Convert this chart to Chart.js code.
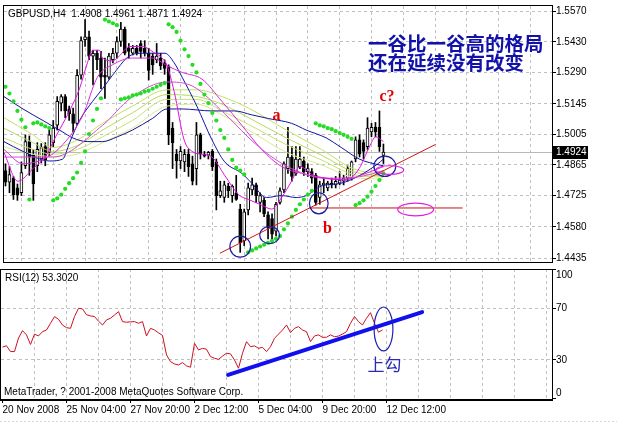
<!DOCTYPE html>
<html><head><meta charset="utf-8">
<script src="https://cdn.jsdelivr.net/npm/chart.js@4.4.1/dist/chart.umd.min.js"></script>
<style>
html,body{margin:0;padding:0;background:#fff;width:617px;height:425px;overflow:hidden}
canvas{display:block}
#wm{position:absolute;left:0;top:0}
#wr{position:absolute;left:0;top:268px}
</style></head><body>
<div id="wm"><canvas id="main" width="617" height="268"></canvas></div>
<div id="wr"><canvas id="rsi" width="617" height="157"></canvas></div>
<script>
// ---------- DATA ----------
const symbol = 'GBPUSD,H4';
const tickLabels = ['20 Nov 2008','25 Nov 04:00','27 Nov 20:00','2 Dec 12:00','5 Dec 04:00','9 Dec 20:00','12 Dec 12:00'];
const tickIdx = [0,16,32,48,64,80,96];
const priceTicks = [1.5570,1.5430,1.5290,1.5145,1.5005,1.4865,1.4725,1.4580,1.4435];
const rsiTicks = [100,70,30,0];

const opens = [1.4839,1.4786,1.4804,1.4759,1.4737,1.4861,1.4972,1.4910,1.4861,1.4892,
1.4949,1.4923,1.4967,1.5047,1.5149,1.5179,1.5122,1.5100,1.5056,1.5277,
1.5440,1.5454,1.5365,1.5378,1.5356,1.5277,1.5268,1.5348,1.5378,1.5432,
1.5489,1.5401,1.5378,1.5401,1.5423,1.5401,1.5378,1.5365,1.5348,1.5356,
1.5334,1.5317,1.5034,1.4914,1.4883,1.4879,1.4914,1.4870,1.4848,1.5003,
1.4914,1.4910,1.4927,1.4879,1.4724,1.4715,1.4768,1.4724,1.4737,1.4662,
1.4516,1.4658,1.4750,1.4773,1.4693,1.4702,1.4635,1.4618,1.4560,1.4693,
1.4750,1.4848,1.4901,1.4826,1.4857,1.4883,1.4834,1.4834,1.4817,1.4715,
1.4773,1.4759,1.4781,1.4773,1.4781,1.4790,1.4804,1.4804,1.4892,1.4980,
1.4967,1.4949,1.5016,1.5038,1.5038,1.4908];
const highs = [1.4870,1.4857,1.4812,1.4777,1.4879,1.5003,1.4998,1.4936,1.4967,1.4963,
1.4967,1.5025,1.5069,1.5179,1.5188,1.5188,1.5135,1.5126,1.5303,1.5454,
1.5533,1.5480,1.5392,1.5392,1.5387,1.5356,1.5378,1.5401,1.5454,1.5520,
1.5498,1.5423,1.5414,1.5414,1.5436,1.5436,1.5401,1.5378,1.5423,1.5378,
1.5348,1.5325,1.5060,1.4936,1.4949,1.4936,1.4936,1.4905,1.5060,1.5011,
1.4927,1.4927,1.4936,1.4892,1.4790,1.4790,1.4781,1.4773,1.4817,1.4684,
1.4662,1.4781,1.4804,1.4781,1.4737,1.4715,1.4649,1.4640,1.4693,1.4759,
1.4879,1.5038,1.4949,1.4949,1.4949,1.4901,1.4870,1.4848,1.4826,1.4790,
1.4804,1.4790,1.4804,1.4812,1.4834,1.4817,1.4861,1.4883,1.4994,1.5003,
1.4980,1.5082,1.5056,1.5060,1.5113,1.4961];
const lows = [1.4768,1.4737,1.4706,1.4702,1.4724,1.4848,1.4817,1.4702,1.4834,1.4874,
1.4861,1.4905,1.4949,1.5025,1.5113,1.5082,1.5069,1.5016,1.5047,1.5259,
1.5409,1.5348,1.5233,1.5303,1.5215,1.5171,1.5259,1.5334,1.5356,1.5409,
1.5370,1.5356,1.5370,1.5370,1.5356,1.5365,1.5255,1.5281,1.5334,1.5303,
1.5281,1.4958,1.4848,1.4804,1.4848,1.4834,1.4812,1.4773,1.4773,1.4892,
1.4901,1.4892,1.4839,1.4658,1.4715,1.4693,1.4715,1.4693,1.4702,1.4463,
1.4494,1.4635,1.4728,1.4693,1.4649,1.4627,1.4525,1.4507,1.4538,1.4684,
1.4737,1.4826,1.4790,1.4817,1.4848,1.4817,1.4812,1.4781,1.4680,1.4684,
1.4737,1.4746,1.4759,1.4759,1.4773,1.4773,1.4790,1.4795,1.4879,1.4901,
1.4892,1.4936,1.4994,1.4994,1.4927,1.4871];
const closes = [1.4786,1.4821,1.4728,1.4728,1.4830,1.4972,1.4901,1.4777,1.4936,1.4945,
1.4888,1.5003,1.5034,1.5157,1.5179,1.5113,1.5100,1.5056,1.5277,1.5436,
1.5454,1.5365,1.5378,1.5348,1.5268,1.5268,1.5365,1.5378,1.5432,1.5489,
1.5378,1.5387,1.5401,1.5378,1.5387,1.5378,1.5299,1.5325,1.5365,1.5321,
1.5308,1.5003,1.4967,1.4883,1.4927,1.4914,1.4857,1.4790,1.5003,1.4914,
1.4905,1.4923,1.4857,1.4724,1.4746,1.4773,1.4746,1.4768,1.4706,1.4507,
1.4649,1.4759,1.4773,1.4724,1.4724,1.4640,1.4574,1.4547,1.4684,1.4746,
1.4870,1.4901,1.4812,1.4892,1.4892,1.4834,1.4848,1.4804,1.4693,1.4773,
1.4781,1.4781,1.4773,1.4790,1.4795,1.4804,1.4848,1.4879,1.4980,1.4914,
1.4927,1.5034,1.5038,1.5016,1.4949,1.4924];

const sarValues = [1.5224,1.5193,1.5157,1.5113,1.5073,1.5038,1.4706,1.5056,1.5060,1.5051,
1.5042,1.5034,1.4702,1.4711,1.4728,1.4755,1.4781,1.4804,1.4830,1.4874,
1.4927,1.5007,1.5069,1.5122,1.5171,1.5533,1.5524,1.5516,1.5507,1.5166,
1.5171,1.5175,1.5184,1.5188,1.5193,1.5202,1.5206,1.5215,1.5224,1.5233,
1.5241,1.5511,1.5498,1.5476,1.5436,1.5396,1.5365,1.5325,1.5290,1.5237,
1.5188,1.5149,1.5104,1.5069,1.5025,1.4989,1.4936,1.4888,1.4852,1.4839,
1.4821,1.4463,1.4472,1.4481,1.4490,1.4498,1.4507,1.4516,1.4525,1.4538,
1.4569,1.4596,1.4627,1.4658,1.4684,1.4706,1.4728,1.4746,1.5056,1.5047,
1.5042,1.5034,1.5029,1.5020,1.5011,1.5003,1.4994,1.4985,1.4680,1.4689,
1.4702,1.4719,1.4742,1.4768,1.4795,1.4826];

const maSlowBlue = [[-0.4,1.5179],[4.4,1.5122],[9.4,1.5069],[14.4,1.5016],[16.9,1.4989],[20.6,1.4972],[24.4,1.4972],[28.1,1.4994],[31.9,1.5025],[36.9,1.5078],[40.6,1.5122],[44.4,1.5122],[51.9,1.5113],[57.6,1.5113],[61.9,1.5095],[66.1,1.5078],[71.9,1.5056],[75.6,1.5025],[80.6,1.4989],[84.4,1.4945],[88.9,1.4892],[93.9,1.4865],[95,1.4861]];
const maFastBlue = [[-0.4,1.4972],[4.4,1.4927],[11.1,1.4883],[14.4,1.4892],[16.1,1.4967],[18.6,1.5069],[21.9,1.5157],[24.4,1.5215],[26.9,1.5277],[31.1,1.5365],[34.4,1.5378],[40.1,1.5378],[42.4,1.5334],[44.4,1.5268],[48.1,1.5135],[51.9,1.4980],[55.1,1.4879],[59.4,1.4826],[61.9,1.4781],[65.6,1.4715],[69.4,1.4724],[73.1,1.4715],[75.6,1.4724],[79.4,1.4768],[84.4,1.4781],[88.6,1.4812],[93.6,1.4870],[95,1.4892]];
const maMagentaFast = [[-0.4,1.4923],[3.1,1.4790],[6.9,1.4848],[10.1,1.4905],[12.6,1.4994],[16.1,1.5113],[18.6,1.5215],[20.6,1.5334],[21.9,1.5392],[23.6,1.5392],[24.4,1.5356],[26.9,1.5343],[28.6,1.5365],[31.1,1.5409],[34.4,1.5409],[37.6,1.5378],[39.4,1.5356],[40.6,1.5321],[42.4,1.5202],[44.9,1.4980],[46.9,1.4927],[49.4,1.4914],[51.9,1.4901],[55.1,1.4817],[58.6,1.4728],[61.1,1.4706],[64.4,1.4680],[66.9,1.4662],[69.4,1.4715],[71.9,1.4790],[74.0,1.4857],[77.4,1.4817],[80.6,1.4804],[85.6,1.4795],[88.9,1.4848],[91.4,1.4945],[93.1,1.4994],[95,1.4972]];
const maMagentaMid = [[-0.4,1.4936],[4.4,1.4870],[10.6,1.4901],[14.4,1.4958],[19.4,1.5091],[23.1,1.5268],[26.9,1.5325],[31.9,1.5356],[36.9,1.5356],[40.6,1.5321],[44.4,1.5290],[49.4,1.5259],[54.4,1.5157],[59.4,1.5047],[64.4,1.4936],[69.4,1.4857],[74.4,1.4826],[79.4,1.4804],[85.6,1.4799],[90.6,1.4826],[95,1.4857]];
const maMagentaSlow = [[-0.4,1.4901],[11.9,1.4901],[24.4,1.5047],[31.4,1.5171],[40.6,1.5246],[46.9,1.5228],[55.1,1.5100],[63.6,1.4949],[71.9,1.4848],[81.9,1.4804],[89.4,1.4812],[95,1.4839]];
const maYellowIdx = [-0.4,6.9,11.9,18.1,24.4,31.9,40.6,48.1,54.4,61.1,70.6,79.4,87.4,95];
const maYellow1 = [1.5082,1.5003,1.4945,1.4980,1.5056,1.5135,1.5210,1.5210,1.5179,1.5126,1.5025,1.4936,1.4848,1.4821];
const maYellow2 = [1.5034,1.4967,1.4927,1.4954,1.5025,1.5104,1.5188,1.5179,1.5144,1.5082,1.4989,1.4910,1.4834,1.4812];
const maYellow3 = [1.4989,1.4936,1.4914,1.4936,1.4994,1.5069,1.5166,1.5166,1.5113,1.5051,1.4958,1.4888,1.4821,1.4808];
const maYellow4 = [1.4949,1.4914,1.4903,1.4915,1.4967,1.5034,1.5135,1.5144,1.5095,1.5025,1.4923,1.4865,1.4808,1.4799];

const rsiValues = [40,41,36.5,36.5,47,52.7,49.4,42,50,48.6,
51.9,53.2,58.4,63.6,61.5,57,55,54.5,63.6,70,
69.5,65,64.1,63.6,60,57.1,61,62.3,64.8,67.4,
59.7,59.2,59.5,59.7,58.4,59.7,48.6,54.5,53.2,51,
49,33.9,28.7,26.9,26.1,28,25.4,24.4,42.9,37.8,
39,38.3,32.6,31.3,30.5,33,35.2,34.7,30,23.6,
35.2,44.2,40.3,40.9,39,39.8,36.5,40.3,46.8,50,
53.2,57.1,51.2,54.5,55.8,53.2,51.9,44.2,48.6,49.4,
47.5,47.6,49.4,48,48.5,50.1,51.9,58.4,63.6,59.7,
57.1,62.3,66.6,58.4,51.5,53.302];

// annotations (data coordinates: bar index, price / rsi)
const lowCircles = [[56.4,1.4538,61.6,1.4441],[63.9,1.4582,68.9,1.4503],[76.4,1.4737,81.1,1.4640],[92.6,1.4905,98.1,1.4812]];
const pinkEllipses = [[98.6,1.4689,107.6,1.4631],[93.1,1.4861,100.1,1.4821]];
const trendLine = [[53.9,1.4459],[108.1,1.4959]];
const supportLine = [[76.4,1.4667],[114.9,1.4667]];
const waveLabels = [['a',68.1,1.5091],['b',80.9,1.4569],['c?',95.9,1.5179]];
const noteLines = ['一谷比一谷高的格局','还在延续没有改变'];
const noteAnchor = [91.1,1.5423,1.5334];
const rsiTrend = [[56.4,18.4],[104.9,67.1]];
const rsiEllipse = [92.9,71.0,97.6,37.0];
const rsiNote = ['上勾',95.5,26.5];

// ---------- CHART ----------
const FONT = "'Liberation Sans', Arial, sans-serif";
Chart.defaults.font.family = FONT;
Chart.defaults.font.size = 10;
Chart.defaults.color = '#000';
const X_MIN = -0.375, X_MAX = 137.375;
const gridTicks = [];
for (let v = 0; v <= 136; v += 8) gridTicks.push(v);
const GRID = '#c0c0c0';
const last = closes.length - 1;

function ellipseBox(ctx, xs, ys, b, color, lw) {
  const x1 = xs.getPixelForValue(b[0]), x2 = xs.getPixelForValue(b[2]);
  const y1 = ys.getPixelForValue(b[1]), y2 = ys.getPixelForValue(b[3]);
  ctx.beginPath();
  ctx.ellipse((x1+x2)/2, (y1+y2)/2, Math.abs(x2-x1)/2, Math.abs(y2-y1)/2, 0, 0, Math.PI*2);
  ctx.strokeStyle = color; ctx.lineWidth = lw; ctx.stroke();
}
function seg(ctx, xs, ys, p, color, lw) {
  ctx.beginPath();
  ctx.moveTo(xs.getPixelForValue(p[0][0]), ys.getPixelForValue(p[0][1]));
  ctx.lineTo(xs.getPixelForValue(p[1][0]), ys.getPixelForValue(p[1][1]));
  ctx.strokeStyle = color; ctx.lineWidth = lw; ctx.stroke();
}

const mainDecor = {
  id: 'mainDecor',
  beforeDatasetsDraw(c) {
    const {ctx, chartArea: a, scales: {y}} = c;
    const yy = Math.round(y.getPixelForValue(closes[last])) + 0.5;
    ctx.save();
    ctx.strokeStyle = '#b8b8b8'; ctx.lineWidth = 1;
    ctx.beginPath(); ctx.moveTo(a.left, yy); ctx.lineTo(a.right, yy); ctx.stroke();
    ctx.restore();
  },
  afterDatasetsDraw(c) {
    const {ctx, chartArea: a, scales: {x, y}} = c;
    ctx.save();
    ctx.beginPath(); ctx.rect(a.left, a.top, a.right - a.left, a.bottom - a.top); ctx.clip();
    seg(ctx, x, y, trendLine, '#d01818', 1);
    seg(ctx, x, y, supportLine, '#cc1010', 1);
    lowCircles.forEach(b => ellipseBox(ctx, x, y, b, '#1a1aa6', 1.2));
    pinkEllipses.forEach(b => ellipseBox(ctx, x, y, b, '#e020e0', 1.2));
    ctx.fillStyle = '#e00000';
    ctx.font = "bold 16px 'Liberation Serif', 'DejaVu Serif', serif";
    ctx.textAlign = 'center'; ctx.textBaseline = 'middle';
    waveLabels.forEach(l => ctx.fillText(l[0], x.getPixelForValue(l[1]), y.getPixelForValue(l[2])));
    ctx.fillStyle = '#1212aa';
    ctx.font = "bold 19.5px 'Noto Sans CJK SC', sans-serif";
    ctx.textAlign = 'left';
    ctx.fillText(noteLines[0], x.getPixelForValue(noteAnchor[0]), y.getPixelForValue(noteAnchor[1]));
    ctx.fillText(noteLines[1], x.getPixelForValue(noteAnchor[0]), y.getPixelForValue(noteAnchor[2]));
    ctx.restore();
  },
  afterDraw(c) {
    const {ctx, chartArea: a, scales: {y}} = c;
    ctx.save();
    ctx.strokeStyle = '#000'; ctx.lineWidth = 1;
    ctx.strokeRect(a.left - 0.5, a.top - 0.5, a.right - a.left + 1, a.bottom - a.top + 1);
    ctx.fillStyle = '#000'; ctx.font = '10px ' + FONT;
    ctx.textAlign = 'left'; ctx.textBaseline = 'middle';
    const hdr = symbol + '  ' + [opens[last], highs[last], lows[last], closes[last]].map(v => v.toFixed(4)).join(' ');
    ctx.fillText(hdr, a.left + 4, a.top + 8);
    const yy = Math.round(y.getPixelForValue(closes[last]));
    ctx.fillStyle = '#000';
    ctx.fillRect(a.right + 1, yy - 6, 35, 13);
    ctx.fillStyle = '#fff';
    ctx.fillText(closes[last].toFixed(4), a.right + 4, yy + 0.5);
    ctx.restore();
  }
};

const candleWicks = opens.map((o, i) => ({x: i, y: [lows[i], highs[i]]}));
const candleBodies = opens.map((o, i) => ({x: i, y: [o, closes[i]]}));
const pairs = arr => arr.map(p => ({x: p[0], y: p[1]}));
const yel = vals => vals.map((v, k) => ({x: maYellowIdx[k], y: v}));
const lineDs = (data, color, order) => ({type: 'line', data, borderColor: color, borderWidth: 1, pointRadius: 0, cubicInterpolationMode: 'monotone', order});

new Chart(document.getElementById('main'), {
  type: 'bar',
  data: {
    datasets: [
      {data: candleWicks, backgroundColor: '#000', borderWidth: 0, barThickness: 1, grouped: false, order: 20},
      {data: candleBodies, backgroundColor: opens.map((o, i) => closes[i] > o ? '#fff' : '#000'), borderColor: '#000', borderWidth: 1, borderSkipped: false, barThickness: 3, grouped: false, order: 19},
      lineDs(yel(maYellow4), '#d8ea8c', 12),
      lineDs(yel(maYellow3), '#c6e270', 12),
      lineDs(yel(maYellow2), '#b6da58', 12),
      lineDs(yel(maYellow1), '#c4e060', 12),
      lineDs(pairs(maSlowBlue), '#12129a', 10),
      lineDs(pairs(maFastBlue), '#1414a8', 10),
      lineDs(pairs(maMagentaSlow), '#d050d0', 8),
      lineDs(pairs(maMagentaMid), '#d82ad8', 8),
      lineDs(pairs(maMagentaFast), '#e010e0', 7),
      {type: 'line', data: sarValues.map((v, i) => ({x: i, y: v})), showLine: false, pointRadius: 2.1, pointBackgroundColor: '#22dd22', pointBorderWidth: 0, order: 1}
    ]
  },
  options: {
    responsive: false, animation: false, events: [],
    layout: {padding: {left: 1, top: 1, right: 0, bottom: 0}},
    plugins: {legend: {display: false}, tooltip: {enabled: false}},
    scales: {
      x: {
        type: 'linear', min: X_MIN, max: X_MAX, offset: false,
        afterBuildTicks: s => { s.ticks = gridTicks.map(v => ({value: v})); },
        afterFit: s => { s.height = 1; },
        ticks: {display: false},
        grid: {color: ctx => (ctx.tick && ctx.tick.value === 0) ? 'rgba(0,0,0,0)' : GRID, drawTicks: false},
        border: {display: false, dash: [3, 3]}
      },
      y: {
        position: 'right', min: 1.44187, max: 1.55952,
        afterBuildTicks: s => { s.ticks = priceTicks.map(v => ({value: v})); },
        afterFit: s => { s.width = 65; },
        ticks: {callback: v => Number(v).toFixed(4), crossAlign: 'near', padding: 0, font: {size: 10}, color: '#000'},
        grid: {color: GRID, drawTicks: true, tickLength: 4, tickColor: '#000', tickBorderDash: []},
        border: {display: false, dash: [3, 3]}
      }
    }
  },
  plugins: [mainDecor]
});

const rsiDecor = {
  id: 'rsiDecor',
  afterDatasetsDraw(c) {
    const {ctx, chartArea: a, scales: {x, y}} = c;
    ctx.save();
    ctx.beginPath(); ctx.rect(a.left, a.top, a.right - a.left, a.bottom - a.top); ctx.clip();
    ctx.lineCap = 'round';
    seg(ctx, x, y, rsiTrend, '#1010ee', 4);
    ellipseBox(ctx, x, y, rsiEllipse, '#2020b0', 1.2);
    ctx.fillStyle = '#2a2ab4';
    ctx.font = "17px 'Noto Sans CJK SC', sans-serif";
    ctx.textAlign = 'center'; ctx.textBaseline = 'middle';
    ctx.fillText(rsiNote[0], x.getPixelForValue(rsiNote[1]), y.getPixelForValue(rsiNote[2]));
    ctx.restore();
  },
  afterDraw(c) {
    const {ctx, chartArea: a, scales: {y}} = c;
    ctx.save();
    ctx.strokeStyle = '#000'; ctx.lineWidth = 1;
    ctx.strokeRect(a.left - 0.5, a.top + 0.5, a.right - a.left + 1, a.bottom - a.top);
    ctx.beginPath(); ctx.moveTo(a.left - 1, a.bottom + 1.5); ctx.lineTo(a.right + 1, a.bottom + 1.5); ctx.stroke();
    ctx.fillStyle = '#000'; ctx.font = '10px ' + FONT;
    ctx.textAlign = 'left'; ctx.textBaseline = 'middle';
    ctx.fillText('RSI(12) ' + rsiValues[last].toFixed(4), a.left + 4, a.top + 9);
    ctx.fillText('MetaTrader, ? 2001-2008 MetaQuotes Software Corp.', a.left + 3, a.bottom - 7);
    rsiTicks.forEach(v => {
      let yy = y.getPixelForValue(v);
      yy = Math.min(Math.max(yy, a.top + 6), a.bottom - 6);
      ctx.fillText(String(v), a.right + 4, yy);
    });
    ctx.strokeStyle = '#d8d8d8'; ctx.setLineDash([2, 2]);
    ctx.beginPath(); ctx.moveTo(0, c.height - 3.5); ctx.lineTo(c.width, c.height - 3.5); ctx.stroke();
    ctx.restore();
  }
};

new Chart(document.getElementById('rsi'), {
  type: 'line',
  data: {
    datasets: [
      {data: rsiValues.map((v, i) => ({x: i, y: v})), borderColor: '#cc1020', borderWidth: 1, pointRadius: 0, tension: 0}
    ]
  },
  options: {
    responsive: false, animation: false, events: [],
    layout: {padding: {left: 1, top: 1, right: 0, bottom: 0}},
    plugins: {legend: {display: false}, tooltip: {enabled: false}},
    scales: {
      x: {
        type: 'linear', min: X_MIN, max: X_MAX, offset: false,
        afterBuildTicks: s => { s.ticks = gridTicks.map(v => ({value: v})); },
        afterFit: s => { s.height = 26; },
        ticks: {
          autoSkip: false, maxRotation: 0, minRotation: 0, align: 'start', padding: 1,
          callback: v => { const k = tickIdx.indexOf(v); return k >= 0 ? tickLabels[k] : ''; },
          font: {size: 10}, color: '#000'
        },
        grid: {
          color: ctx => (ctx.tick && ctx.tick.value === 0) ? 'rgba(0,0,0,0)' : GRID,
          drawTicks: true, tickLength: 4, tickBorderDash: [],
          tickColor: ctx => (ctx.tick && tickIdx.indexOf(ctx.tick.value) >= 0) ? '#000' : 'rgba(0,0,0,0)'
        },
        border: {display: false, dash: [3, 3]}
      },
      y: {
        position: 'right', min: -0.2, max: 100.4,
        afterBuildTicks: s => { s.ticks = rsiTicks.map(v => ({value: v})); },
        afterFit: s => { s.width = 65; },
        ticks: {display: false},
        grid: {
          color: ctx => (ctx.tick && (ctx.tick.value === 70 || ctx.tick.value === 30)) ? GRID : 'rgba(0,0,0,0)',
          drawTicks: true, tickLength: 4, tickColor: '#000', tickBorderDash: []
        },
        border: {display: false, dash: [3, 3]}
      }
    }
  },
  plugins: [rsiDecor]
});
</script>
</body></html>
